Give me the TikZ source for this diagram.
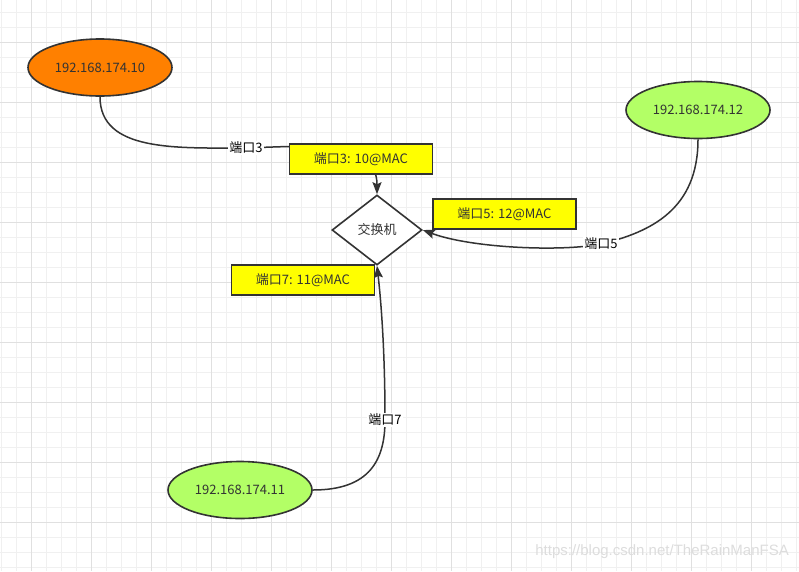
\documentclass[tikz,border=0pt]{standalone}
\usepackage{fontspec}
\setmainfont{Noto Sans CJK SC}
\newfontfamily\wmfont{Liberation Sans}
\usetikzlibrary{shapes.geometric,arrows.meta}
\definecolor{ink}{HTML}{333333}
\definecolor{orangefill}{HTML}{FF8000}
\definecolor{greenfill}{HTML}{B3FF66}
\definecolor{yellowfill}{HTML}{FFFF00}
\definecolor{gridminor}{HTML}{F0F0F0}
\definecolor{gridmajor}{HTML}{E0E0E0}
\definecolor{wmark}{HTML}{DDDDDD}
\pgfdeclarelayer{gridlayer}
\pgfdeclarelayer{edgelayer}
\pgfsetlayers{gridlayer,edgelayer,main}
\tikzset{
  ipnode/.style={ellipse, draw=ink, line width=1.6pt, minimum width=144pt, minimum height=57pt, inner sep=0pt, text=ink, font=\fontsize{13}{15}\selectfont},
  macbox/.style={rectangle, draw=ink, fill=yellowfill, line width=1.6pt, minimum width=143pt, minimum height=30pt, inner sep=0pt, text=ink, font=\fontsize{13}{15}\selectfont},
  switchnode/.style={diamond, draw=ink, fill=white, line width=1.6pt, minimum width=90pt, minimum height=70pt, inner sep=0pt, text=ink, font=\fontsize{13}{15}\selectfont},
  edgeline/.style={draw=ink, line width=1.5pt},
  arrowedge/.style={edgeline, -{Stealth[length=12pt, width=9pt, inset=2pt]}},
  elabel/.style={fill=white, inner sep=1pt, text=black, font=\fontsize{13}{15}\selectfont},
  minorline/.style={draw=gridminor, line width=1pt},
  majorline/.style={draw=gridmajor, line width=1pt}
}
\begin{document}
\begin{tikzpicture}[x=1pt, y=-1pt]
\path[use as bounding box] (0,0) rectangle (799,571);
\begin{pgfonlayer}{gridlayer}
  \fill[white] (0,0) rectangle (799,571);
  \foreach \i in {0,...,53} {
    \draw[minorline] ({1.7+15*\i},0) -- ({1.7+15*\i},571);
  }
  \foreach \i in {0,...,38} {
    \draw[minorline] (0,{12.3+15*\i}) -- (799,{12.3+15*\i});
  }
  \foreach \i in {0,...,13} {
    \draw[majorline] ({31.7+60*\i},0) -- ({31.7+60*\i},571);
  }
  \foreach \i in {0,...,9} {
    \draw[majorline] (0,{42.3+60*\i}) -- (799,{42.3+60*\i});
  }
\end{pgfonlayer}

\node[ipnode, fill=orangefill] (o10) at (100,67.5) {192.168.174.10};
\node[ipnode, fill=greenfill] (g12) at (698,110) {192.168.174.12};
\node[ipnode, fill=greenfill] (g11) at (240,490) {192.168.174.11};
\node[switchnode] (sw) at (377,230) {交换机};
\node[macbox] (b3) at (361,158.7) {端口3: 10@MAC};
\node[macbox] (b5) at (504.5,214) {端口5: 12@MAC};
\node[macbox] (b7) at (303,279.7) {端口7: 11@MAC};

\coordinate (c3) at (246,148);
\coordinate (c5) at (601,244);
\coordinate (c7) at (385,420);

\begin{pgfonlayer}{edgelayer}
  \draw[arrowedge] (o10.south) .. controls +(0,55) and +(-70,0) .. (c3)
        .. controls +(60,-2) and +(0,-55) .. (sw.north);
  \draw[arrowedge] (g12.south) .. controls +(0,70) and +(50,-12) .. (c5)
        .. controls +(-40,8) and +(48,18) .. (sw.east);
  \draw[arrowedge] (g11.east) .. controls +(57,0) and +(0,40) .. (c7)
        .. controls +(0,-70) and +(4,35) .. (sw.south);
\end{pgfonlayer}

\node[elabel] (l3) at (c3) {端口3};
\node[elabel] (l5) at (c5) {端口5};
\node[elabel] (l7) at (c7) {端口7};

\node[anchor=east, text=wmark, font=\wmfont\fontsize{15}{17}\selectfont, inner sep=0pt] (wm) at (789,552) {https://blog.csdn.net/TheRainManFSA};
\end{tikzpicture}
\end{document}
